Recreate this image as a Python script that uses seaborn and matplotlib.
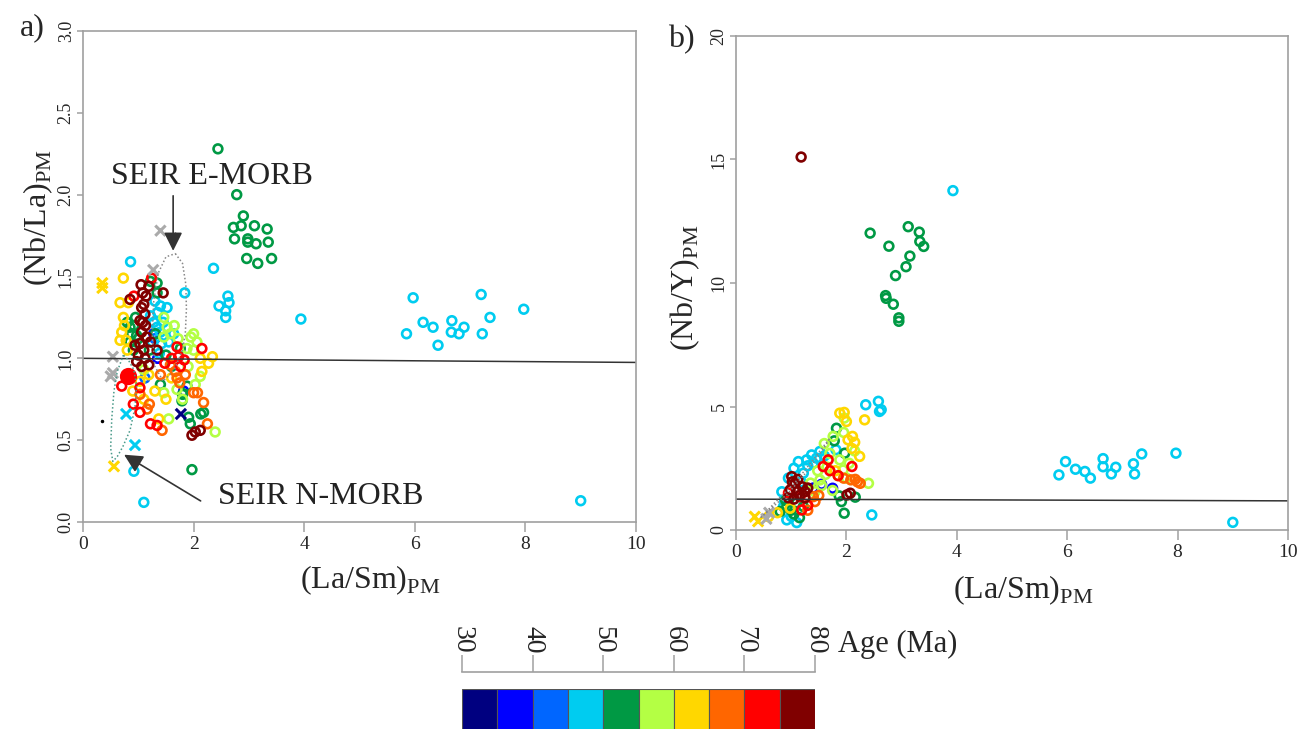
import numpy as np
import pandas as pd
import matplotlib
matplotlib.use('Agg')
import matplotlib.pyplot as plt
import seaborn as sns

# ---------------------------
# Age colour scale (5 Ma classes, 30-80 Ma)
age_edges = [30, 35, 40, 45, 50, 55, 60, 65, 70, 75, 80]
age_colors = ['#000080', '#0000ff', '#0066ff', '#00ccf0', '#009944',
              '#b4ff44', '#ffd700', '#ff6600', '#ff0000', '#800000']
age_ticks = [30, 40, 50, 60, 70, 80]

# ---------------------------
# Panel a: (La/Sm)PM vs (Nb/La)PM, circles
a_x = [2.44, 2.78, 2.90, 2.72, 2.86, 3.10, 3.33, 2.74, 2.98, 2.98, 3.13, 3.35, 2.96, 3.16, 3.41, 1.97,  # green outliers
       0.86, 2.36, 1.84, 2.62, 2.46, 2.64, 2.58, 2.58, 3.94, 5.97, 7.20, 7.97, 7.36, 6.15, 6.33, 6.67,
       6.89, 5.85, 6.66, 6.80, 7.22, 6.42, 0.92, 1.10, 9.00,  # cyan outliers
       1.22, 1.34, 1.34, 0.85, 0.97, 0.85, 0.91, 1.31, 1.40, 1.88, 1.91, 1.94, 2.18, 1.79, 1.76, 0.80,
       0.92, 0.88, 1.00, 0.95, 1.20, 1.50, 1.60, 1.80, 2.13,  # green cluster
       1.40, 1.52, 1.22, 1.34, 1.40, 1.64, 1.30, 1.35, 1.28, 1.45, 1.25, 1.42, 1.38, 1.55,  # cyan cluster
       0.73, 0.67, 0.82, 0.73, 0.70, 0.67, 0.78, 2.34, 2.27, 2.15, 2.12, 1.37, 1.03, 1.19, 1.10, 0.75,
       0.80, 0.90, 1.60, 1.30, 1.50,  # yellow
       1.40, 1.58, 1.67, 2.00, 2.07, 2.18, 1.43, 1.16, 1.70, 1.03, 1.75, 1.85, 1.20, 2.25,  # orange
       1.46, 1.52, 1.46, 2.00, 2.06, 1.88, 2.12, 2.03, 1.70, 1.46, 1.55, 2.39, 1.80, 1.65, 1.95, 2.00,
       1.90, 1.58, 1.72, 1.10,  # lime
       1.82, 1.28, 1.35, 1.30, 1.12,  # blues
       0.70, 0.91, 1.03, 1.22, 1.34, 1.70, 1.73, 1.76, 1.03, 1.24, 2.15, 1.83, 0.92, 1.48, 1.60,  # red
       1.05, 1.19, 1.08, 1.14, 1.06, 1.12, 1.03, 1.13, 1.06, 1.15, 1.03, 0.94, 1.10, 0.97, 1.06, 1.19,
       1.34, 1.12, 1.08, 1.10, 1.00, 1.22, 2.03, 2.12, 1.97, 1.45, 0.85]  # dark red
a_y = [2.28, 2.00, 1.87, 1.80, 1.81, 1.81, 1.79, 1.73, 1.73, 1.71, 1.70, 1.71, 1.61, 1.58, 1.61, 0.32,
       1.59, 1.55, 1.40, 1.38, 1.32, 1.34, 1.29, 1.25, 1.24, 1.37, 1.39, 1.30, 1.25, 1.22, 1.19, 1.23,
       1.19, 1.15, 1.16, 1.15, 1.15, 1.08, 0.31, 0.12, 0.13,
       1.47, 1.46, 1.40, 1.19, 1.14, 1.10, 1.05, 1.15, 0.84, 0.83, 0.64, 0.60, 0.67, 0.74, 1.06, 1.22,
       1.20, 1.15, 1.12, 1.25, 1.05, 1.02, 0.95, 0.78, 0.66,
       1.32, 1.31, 1.26, 1.19, 1.16, 1.15, 1.35, 1.28, 1.22, 1.22, 1.10, 1.09, 1.03, 1.10,
       1.49, 1.34, 1.34, 1.25, 1.16, 1.11, 1.11, 1.01, 0.97, 0.92, 1.00, 0.63, 0.86, 0.90, 0.75, 1.20,
       1.05, 0.80, 0.88, 0.80, 0.75,
       0.90, 0.96, 0.92, 0.79, 0.79, 0.73, 0.56, 0.69, 0.88, 0.78, 0.85, 0.90, 0.72, 0.60,
       1.25, 1.19, 1.13, 1.15, 1.10, 1.06, 0.89, 0.84, 0.81, 0.79, 0.63, 0.55, 0.75, 1.20, 1.13, 1.05,
       0.95, 1.15, 1.12, 0.93,
       0.80, 1.15, 1.00, 1.12, 0.88,
       0.83, 0.72, 0.67, 0.60, 0.59, 1.07, 1.01, 0.95, 0.82, 1.49, 1.06, 0.99, 1.38, 0.97, 1.00,
       1.45, 1.44, 1.40, 1.38, 1.31, 1.27, 1.23, 1.20, 1.16, 1.13, 1.09, 1.08, 1.05, 0.98, 0.95, 0.96,
       1.05, 1.00, 1.22, 1.33, 1.02, 1.10, 0.55, 0.56, 0.53, 1.40, 1.36]
a_age = [52] * 16 + [47] * 25 + [52] * 25 + [47] * 14 + [62] * 21 + [67] * 14 + [57] * 20 \
        + [37, 37, 37, 42, 42] + [72] * 15 + [77] * 27

# panel a: filled symbols and crosses
a_fill_x = [0.82]
a_fill_y = [0.89]
a_fill_age = [72]
a_cross_x = [1.40, 1.27, 0.54, 0.54, 0.50, 0.35, 0.35, 0.56, 0.78, 0.94, 1.77]
a_cross_y = [1.78, 1.54, 1.01, 0.91, 0.89, 1.46, 1.43, 0.34, 0.66, 0.47, 0.66]
a_cross_c = ['#aaaaaa'] * 5 + ['#ffd700'] * 3 + ['#00ccf0'] * 2 + ['#000080']

# field outlines (dotted) in panel a
emorb_x = [1.67, 1.80, 1.86, 1.87, 1.85, 1.80, 1.65, 1.45, 1.30, 1.25, 1.28, 1.36, 1.50, 1.67]
emorb_y = [1.64, 1.58, 1.45, 1.30, 1.15, 1.05, 0.93, 0.86, 0.95, 1.15, 1.35, 1.52, 1.62, 1.64]
nmorb_x = [0.73, 0.62, 0.56, 0.52, 0.50, 0.54, 0.62, 0.72, 0.85, 0.94, 0.97, 0.92, 0.82, 0.73]
nmorb_y = [1.02, 0.92, 0.80, 0.63, 0.45, 0.37, 0.40, 0.46, 0.56, 0.70, 0.83, 0.93, 0.99, 1.02]

# ---------------------------
# Panel b: (La/Sm)PM vs (Nb/Y)PM, circles
b_x = [1.18,  # dark red outlier
       3.93, 5.85, 5.97, 6.15, 6.32, 6.42, 6.65, 6.65, 6.80, 6.88, 7.20, 7.22, 7.35, 7.97, 9.00,  # cyan outliers
       3.12, 2.43, 3.32, 3.33, 3.40, 2.77, 3.15, 3.08, 2.89, 2.71, 2.72, 2.85, 2.95, 2.95,  # green outliers
       2.35, 2.58, 2.63, 2.60, 1.81, 1.52, 1.37, 1.28, 1.13, 1.46, 1.22, 1.30, 0.83, 0.86, 0.92, 1.10,
       2.46, 1.60, 1.05, 0.95, 1.40, 1.18, 0.88, 1.00,  # cyan cluster
       1.82, 1.78, 1.97, 1.87, 1.91, 2.16, 1.96, 1.22, 0.92, 1.00, 1.10, 0.90, 1.05, 0.80, 1.15,  # green cluster
       1.96, 1.76, 1.60, 1.88, 1.94, 1.52, 1.43, 2.40, 1.65, 1.70, 1.85, 2.00, 1.55, 1.35, 1.75, 2.05,
       1.95, 1.62, 1.48, 2.15,  # lime
       2.33, 1.88, 1.96, 2.00, 2.03, 2.11, 2.24, 2.10, 0.98, 0.59, 2.15, 1.80, 0.75,  # yellow
       2.16, 2.08, 2.25, 1.95, 1.43, 1.40, 1.30, 1.50, 2.20,  # orange
       1.75, 1.55, 1.40,  # blue
       2.10, 1.67, 1.58, 1.16, 1.19, 1.70, 1.30, 0.95, 1.85,  # red
       2.07, 2.01, 1.01, 1.07, 0.98, 1.10, 1.15, 1.25, 1.05, 1.20, 0.95, 1.12, 1.25, 1.02, 1.30]  # dark red
b_y = [15.10,
       13.74, 2.23, 2.77, 2.46, 2.37, 2.10, 2.89, 2.56, 2.27, 2.54, 2.68, 2.27, 3.08, 3.11, 0.31,
       12.28, 12.02, 12.06, 11.68, 11.48, 11.49, 11.09, 10.66, 10.30, 9.49, 9.38, 9.14, 8.59, 8.45,
       5.07, 5.21, 4.87, 4.80, 3.25, 3.18, 3.04, 2.84, 2.77, 2.91, 2.30, 2.60, 1.55, 0.95, 0.41, 0.30,
       0.61, 3.00, 2.50, 2.10, 2.70, 1.95, 1.20, 0.55,
       4.12, 3.61, 3.11, 1.38, 1.15, 1.33, 0.68, 0.95, 0.95, 0.80, 1.10, 1.20, 0.65, 0.75, 0.50,
       4.53, 3.79, 3.50, 2.84, 2.43, 2.03, 1.55, 1.89, 2.55, 3.10, 2.20, 2.10, 1.80, 1.90, 1.60, 2.70,
       3.95, 2.25, 2.40, 3.20,
       4.46, 4.73, 4.76, 4.39, 3.65, 3.79, 2.98, 3.30, 0.88, 0.54, 3.55, 2.40, 0.70,
       2.05, 2.03, 1.89, 2.10, 1.15, 1.35, 0.80, 1.40, 1.95,
       1.69, 1.85, 1.70,
       2.57, 2.84, 2.57, 1.35, 0.81, 2.40, 1.00, 1.50, 2.20,
       1.49, 1.42, 2.16, 1.89, 1.62, 1.60, 1.40, 1.30, 1.25, 1.75, 1.30, 2.05, 1.55, 1.95, 1.70]
b_age = [77] + [47] * 15 + [52] * 14 + [47] * 24 + [52] * 15 + [57] * 20 + [62] * 13 \
        + [67] * 9 + [37] * 3 + [72] * 9 + [77] * 15

b_cross_x = [0.34, 0.40, 0.55, 0.60]
b_cross_y = [0.54, 0.35, 0.45, 0.70]
b_cross_c = ['#ffd700', '#ffd700', '#aaaaaa', '#aaaaaa']

bfield_x = [0.45, 0.70, 1.10, 1.45, 1.70, 1.62, 1.30, 0.95, 0.60, 0.45]
bfield_y = [0.50, 1.10, 2.00, 3.00, 3.72, 3.40, 2.40, 1.50, 0.80, 0.50]

# ---------------------------
sns.set_style('ticks')
plt.rcParams['font.family'] = ['Liberation Serif', 'DejaVu Serif']
plt.rcParams['mathtext.fontset'] = 'custom'
plt.rcParams['mathtext.rm'] = 'Liberation Serif'

spine_c = '#a0a0a0'
W, H = 1309, 729
fig = plt.figure(figsize=(W / 100, H / 100), dpi=100)


def px_axes(x0, y0, x1, y1):
    return fig.add_axes([x0 / W, 1 - y1 / H, (x1 - x0) / W, (y1 - y0) / H])


def age_class(a):
    return int(np.digitize(a, age_edges[1:-1]))


palette = {i: c for i, c in enumerate(age_colors)}


def rings(ax, x, y, age, s=40, lw=1.9, filled=False):
    df = pd.DataFrame({'x': x, 'y': y, 'age': age})
    df['cls'] = df['age'].apply(age_class)
    df = df.sort_values('age', kind='stable')
    sns.scatterplot(data=df, x='x', y='y', hue='cls', palette=palette, legend=False,
                    s=s, linewidth=0, ax=ax)
    coll = ax.collections[-1]
    coll.set_edgecolors(coll.get_facecolors())
    if not filled:
        coll.set_facecolors('none')
    coll.set_linewidth(lw)


def crosses(ax, x, y, colors):
    df = pd.DataFrame({'x': x, 'y': y, 'c': colors})
    sns.scatterplot(data=df, x='x', y='y', hue='c', palette={c: c for c in set(colors)},
                    marker='x', s=55, linewidth=2.2, legend=False, ax=ax)


def style_axes(ax):
    for sp in ax.spines.values():
        sp.set_color(spine_c)
        sp.set_linewidth(1.2)
    ax.tick_params(axis='x', direction='out', length=7, width=1.1, color=spine_c,
                   labelsize=14, pad=3)
    ax.tick_params(axis='y', direction='out', length=4.5, width=1.1, color=spine_c,
                   labelsize=13, pad=1.5)
    for lab in ax.get_yticklabels():
        lab.set_rotation(90)
        lab.set_va('center')


# ---------------------------
# Panel a
ax1 = px_axes(83, 31, 636, 522)
ax1.plot([0, 10], [1.0, 0.975], color='#333333', lw=1.1)
ax1.plot(emorb_x, emorb_y, color='#888888', lw=1.1, ls=(0, (1, 1.5)))
ax1.plot(nmorb_x, nmorb_y, color='#4a9a8a', lw=1.1, ls=(0, (1, 1.5)))
rings(ax1, a_x, a_y, a_age)
rings(ax1, a_fill_x, a_fill_y, a_fill_age, s=110, filled=True)
crosses(ax1, a_cross_x, a_cross_y, a_cross_c)
ax1.plot([0.35], [0.62], marker='.', color='k', ms=3)
ax1.plot([1.67], [1.75], marker='+', color='#333333', ms=6)
ax1.set_xlim(0, 10)
ax1.set_ylim(0, 3.0)
ax1.set_xticks([0, 2, 4, 6, 8, 10])
ax1.set_yticks([0.0, 0.5, 1.0, 1.5, 2.0, 2.5, 3.0])
ax1.set_yticklabels(['0.0', '0.5', '1.0', '1.5', '2.0', '2.5', '3.0'])
ax1.set_xlabel(r'(La/Sm)$_{\rm PM}$', fontsize=23)
ax1.set_ylabel(r'(Nb/La)$_{\rm PM}$', fontsize=23)
ax1.xaxis.set_label_coords(0.52, -0.085)
ax1.yaxis.set_label_coords(-0.05, 0.62)
style_axes(ax1)

ax1.text(2.34, 2.11, 'SEIR E-MORB', ha='center', va='center', fontsize=23, color='#222222')
ax1.annotate('', xy=(1.63, 1.64), xytext=(1.63, 2.01),
             arrowprops=dict(arrowstyle='-|>', color='#333333', lw=1.2, mutation_scale=28))
ax1.text(4.3, 0.155, 'SEIR N-MORB', ha='center', va='center', fontsize=23, color='#222222')
ax1.annotate('', xy=(0.70, 0.42), xytext=(2.17, 0.12),
             arrowprops=dict(arrowstyle='-|>', color='#333333', lw=1.2, mutation_scale=28))

# ---------------------------
# Panel b
ax2 = px_axes(736, 36, 1288, 530)
ax2.plot([0, 10], [1.25, 1.18], color='#333333', lw=1.1)
ax2.plot(bfield_x, bfield_y, color='#888888', lw=1.1, ls=(0, (1, 1.5)))
rings(ax2, b_x, b_y, b_age)
crosses(ax2, b_cross_x, b_cross_y, b_cross_c)
ax2.set_xlim(0, 10)
ax2.set_ylim(0, 20)
ax2.set_xticks([0, 2, 4, 6, 8, 10])
ax2.set_yticks([0, 5, 10, 15, 20])
ax2.set_xlabel(r'(La/Sm)$_{\rm PM}$', fontsize=23)
ax2.set_ylabel(r'(Nb/Y)$_{\rm PM}$', fontsize=23)
ax2.xaxis.set_label_coords(0.52, -0.088)
ax2.yaxis.set_label_coords(-0.062, 0.49)
style_axes(ax2)

fig.text(20 / W, 1 - 28 / H, 'a)', fontsize=23, va='center', ha='left')
fig.text(668 / W, 1 - 40 / H, 'b)', fontsize=23, va='center', ha='left')

# ---------------------------
# Age colour bar
cb = px_axes(462, 689, 815, 745)
cb.bar(age_edges[:-1], [1] * 10, width=5, align='edge', color=age_colors,
       edgecolor='#555555', linewidth=0.8)
cb.set_xlim(30, 80)
cb.set_ylim(0, 1)
cb.axis('off')

sc = px_axes(462, 650, 815, 672)
sc.set_xlim(30, 80)
sc.set_ylim(0, 1)
for side in ['top', 'left', 'right']:
    sc.spines[side].set_visible(False)
sc.spines['bottom'].set_color(spine_c)
sc.spines['bottom'].set_linewidth(1.2)
sc.set_yticks([])
sc.set_xticks(age_ticks)
sc.tick_params(axis='x', direction='in', length=12, width=1.1, color=spine_c, labelbottom=False)
for t in age_ticks:
    sc.text(t, 0.85, str(t), rotation=-90, ha='center', va='bottom', fontsize=20)
sc.patch.set_alpha(0)
fig.text(838 / W, 1 - 644 / H, 'Age (Ma)', fontsize=22, va='center', ha='left')

fig.savefig('out.png', dpi=100)
